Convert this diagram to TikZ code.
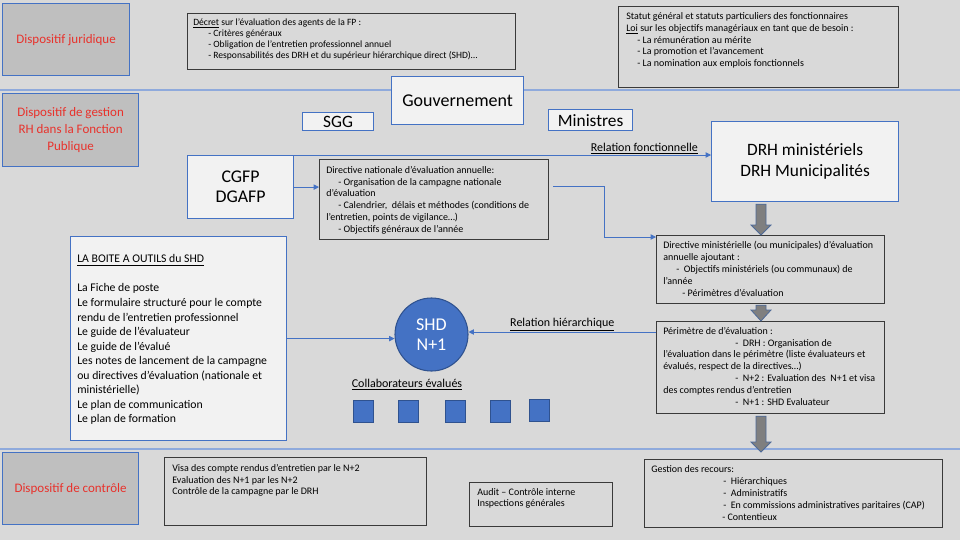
\documentclass[tikz,border=0pt]{standalone}
\usepackage{fontspec}
\setmainfont{Carlito}
\usetikzlibrary{arrows.meta,calc}
\definecolor{bg}{HTML}{D9D9D9}
\definecolor{lab}{HTML}{BFBFBF}
\definecolor{ob}{HTML}{4472C4}
\definecolor{obd}{HTML}{2F528F}
\definecolor{wb}{HTML}{F2F2F2}
\definecolor{redt}{HTML}{E8322C}
\definecolor{sepc}{HTML}{8FAADC}
\definecolor{dk}{HTML}{3A3A3A}
\definecolor{ga}{HTML}{7F7F7F}
\definecolor{blkb}{HTML}{4E6A98}
\tikzset{
  wh/.style 2 args={minimum width={#1*0.75pt}, minimum height={#2*0.75pt}, anchor=north west, inner sep=0pt},
  labbox/.style={draw=ob, line width=0.9pt, fill=lab, text=redt, align=center, font=\fontsize{9.75}{12.5}\selectfont},
  wbox/.style={draw=ob, line width=0.9pt, fill=wb, align=center, font=\fontsize{13.3}{15.5}\selectfont},
  tbox/.style={draw=dk, line width=0.9pt, fill=bg},
  txt/.style={anchor=north west, inner sep=0pt, align=left, font=\fontsize{7.5}{8.95}\selectfont},
  conn/.style={draw=ob, line width=0.6pt, -{Triangle[length=4pt,width=4pt]}},
  lbl/.style={inner sep=0.5pt, font=\fontsize{9}{11}\selectfont},
  blk/.style={fill=ga, draw=blkb, line width=0.6pt},
  sq/.style={fill=ob, draw=obd, line width=0.6pt, minimum width=15pt, minimum height=16.5pt, inner sep=0pt, anchor=north west},
  sepline/.style={draw=sepc, line width=0.8pt}
}
\begin{document}
\begin{tikzpicture}[x=0.75pt,y=-0.75pt]
\path[fill=bg] (0,0) rectangle (960,540);
\useasboundingbox (0,0) rectangle (960,540);
% separators
\draw[sepline] (0,90) -- (960,90);
\draw[sepline] (0,449) -- (960,449);
% left label boxes
\node[labbox, wh={127}{72}] (jur) at (2,3) {Dispositif juridique};
\node[labbox, wh={136}{73}] (gest) at (2,93) {Dispositif de gestion\\RH dans la Fonction\\Publique};
\node[labbox, wh={136}{72}] (ctrl) at (2,452) {Dispositif de contrôle};
% juridique boxes
\node[tbox, wh={328}{56}] (decret) at (187,13) {};
\node[txt, font=\fontsize{7.2}{8.25}\selectfont] (decret-t) at (193,18.3) {\underline{Décret} sur l’évaluation des agents de la FP :\\
\hspace*{11.25pt}- Critères généraux\\
\hspace*{11.25pt}- Obligation de l’entretien professionnel annuel\\
\hspace*{11.25pt}- Responsabilités des DRH et du supérieur hiérarchique direct (SHD)…};
\node[tbox, wh={280}{81}] (statut) at (618,6) {};
\node[txt, font=\fontsize{7.5}{8.85}\selectfont] (statut-t) at (626,12.3) {Statut général et statuts particuliers des fonctionnaires\\
\underline{Loi} sur les objectifs managériaux en tant que de besoin :\\
\hspace*{8.25pt}- La rémunération au mérite\\
\hspace*{8.25pt}- La promotion et l’avancement\\
\hspace*{8.25pt}- La nomination aux emplois fonctionnels};
% gestion
\node[wbox, wh={132}{48}, font=\fontsize{13.5}{15}\selectfont] (gouv) at (391,76) {Gouvernement};
\node[wbox, wh={71}{18}, font=\fontsize{13}{15}\selectfont] (sgg) at (302,112) {SGG};
\node[wbox, wh={84}{21}, font=\fontsize{13}{15}\selectfont] (min) at (548,109) {Ministres};
\node[wbox, wh={106}{63}, font=\fontsize{13.4}{15}\selectfont] (cgfp) at (187,155) {CGFP\\DGAFP};
\node[wbox, wh={187}{80}, font=\fontsize{13}{15.75}\selectfont] (drh) at (711,121) {DRH ministériels\\DRH Municipalités};
\node[tbox, wh={229}{80}] (dirnat) at (319,159) {};
\node[txt] (dirnat-t) at (326,165.8) {Directive nationale d’évaluation annuelle:\\
\hspace*{9pt}- Organisation de la campagne nationale\\
d’évaluation\\
\hspace*{9pt}- Calendrier,\ \ délais et méthodes (conditions de\\
l’entretien, points de vigilance…)\\
\hspace*{9pt}- Objectifs généraux de l’année};
\node[tbox, wh={228}{68}] (dirmin) at (656,235) {};
\node[txt] (dirmin-t) at (663,240.8) {Directive ministérielle (ou municipales) d’évaluation\\
annuelle ajoutant :\\
\hspace*{9.75pt}-\ \ Objectifs ministériels (ou communaux) de\\
l’année\\
\hspace*{14.25pt}- Périmètres d’évaluation};
\node[tbox, wh={228}{92}] (perim) at (656,321) {};
\node[txt] (perim-t) at (663,326.8) {Périmètre de d’évaluation :\\
\hspace*{54pt}-\ \ DRH : Organisation de\\
l’évaluation dans le périmètre (liste évaluateurs et\\
évalués, respect de la directives…)\\
\hspace*{54pt}-\ \ N+2 : Evaluation des\ \ N+1 et visa\\
des comptes rendus d’entretien\\
\hspace*{54pt}-\ \ N+1 : SHD Evaluateur};
\node[wbox, wh={216}{204}] (boite) at (70,236) {};
\node[txt, font=\fontsize{8.8}{10.9}\selectfont] (boite-t) at (77,254.5) {\underline{LA BOITE A OUTILS du SHD}\\[10.9pt]
La Fiche de poste\\
Le formulaire structuré pour le compte\\
rendu de l’entretien professionnel\\
Le guide de l’évaluateur\\
Le guide de l’évalué\\
Les notes de lancement de la campagne\\
ou directives d’évaluation (nationale et\\
ministérielle)\\
Le plan de communication\\
Le plan de formation};
\node[circle, fill=ob, draw=obd, line width=0.8pt, minimum size={73*0.75pt}, inner sep=0pt, text=white, align=center, font=\fontsize{13.5}{15}\selectfont] (shd) at (431.5,334.5) {SHD\\N+1};
\node[lbl] (collab) at (407,385) {\underline{Collaborateurs évalués}};
\node[sq] (c1) at (353,400) {};
\node[sq] (c2) at (398,400) {};
\node[sq] (c3) at (445,400) {};
\node[sq] (c4) at (490,400) {};
\node[sq] (c5) at (529,399) {};
% controle
\node[tbox, wh={262}{68}] (visa) at (164,457) {};
\node[txt] (visa-t) at (172,463.8) {Visa des compte rendus d’entretien par le N+2\\
Evaluation des N+1 par les N+2\\
Contrôle de la campagne par le DRH};
\node[tbox, wh={143}{44}] (audit) at (469,482) {};
\node[txt] (audit-t) at (477,487.8) {Audit – Contrôle interne\\
Inspections générales};
\node[tbox, wh={298}{68}] (gestion) at (644,459) {};
\node[txt] (gestion-t) at (651,465.3) {Gestion des recours:\\
\hspace*{54pt}-\ \ Hiérarchiques\\
\hspace*{54pt}-\ \ Administratifs\\
\hspace*{54pt}-\ \ En commissions administratives paritaires (CAP)\\
\hspace*{53.25pt}- Contentieux};
% connectors
\draw[conn] (cgfp.east) -- (cgfp.east -| dirnat.west);
\draw[conn] (cgfp.north east) -- node[pos=0.84, above, lbl] {\underline{Relation fonctionnelle}} (cgfp.north east -| drh.west);
\draw[conn] ($(dirnat.east)+(4,-13)$) -- ++(51,0) |- ($(dirmin.north west)+(0,2)$);
\draw[conn] (boite.east) -- (boite.east -| shd.west);
\coordinate (ph) at ($(perim.north west)+(0,11)$);
\draw[conn] (ph) -- node[above, lbl] {\underline{Relation hiérarchique}} (ph -| shd.east);
% block arrows
\coordinate (ax) at (761,0);
\coordinate (tip3) at (761,452);
\draw[blk] ($(ax|-drh.south)+(-5,2)$) -- ($(ax|-dirmin.north)+(-5,-10)$) -- ++(-5,0) -- (ax|-dirmin.north) -- ++(10,-10) -- ++(-5,0) -- ($(ax|-drh.south)+(5,2)$) -- cycle;
\draw[blk] ($(ax|-dirmin.south)+(-5,1)$) -- ($(ax|-perim.north)+(-5,-11)$) -- ++(-5,0) -- (ax|-perim.north) -- ++(10,-11) -- ++(-5,0) -- ($(ax|-dirmin.south)+(5,1)$) -- cycle;
\draw[blk] ($(ax|-perim.south)+(-5,2)$) -- ($(tip3)+(-5,-10)$) -- ++(-5,0) -- (tip3) -- ++(10,-10) -- ++(-5,0) -- ($(ax|-perim.south)+(5,2)$) -- cycle;
\end{tikzpicture}
\end{document}
